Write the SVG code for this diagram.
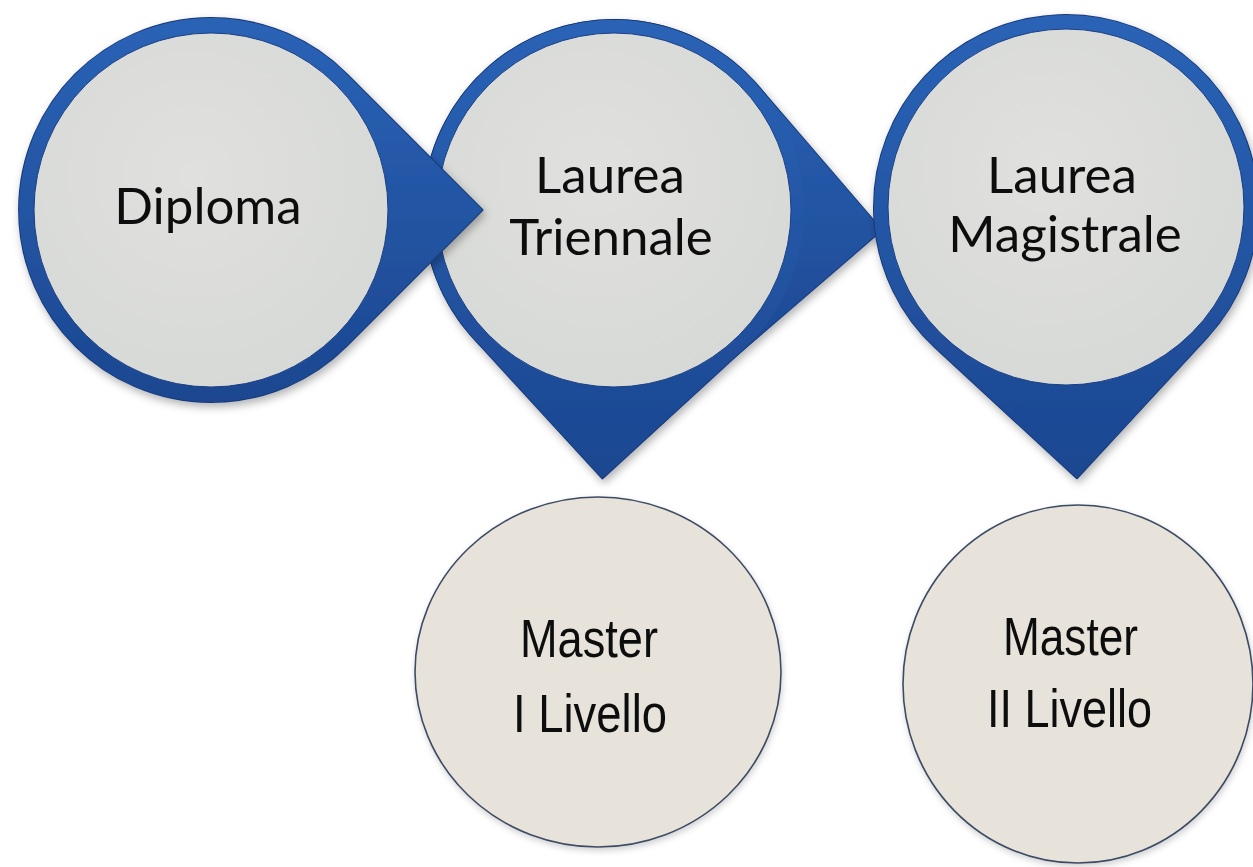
<svg xmlns="http://www.w3.org/2000/svg" width="1253" height="867" viewBox="0 0 1253 867">
  <defs>
    <linearGradient id="blue" x1="0" y1="0" x2="0" y2="1">
      <stop offset="0" stop-color="#2a63b6"/>
      <stop offset="1" stop-color="#1c4690"/>
    </linearGradient>
    <radialGradient id="inner" cx="0.45" cy="0.4" r="0.7">
      <stop offset="0" stop-color="#e0e1de"/>
      <stop offset="1" stop-color="#d6d8d5"/>
    </radialGradient>
    <filter id="shadow" x="-10%" y="-10%" width="125%" height="125%">
      <feDropShadow dx="2" dy="4" stdDeviation="4" flood-color="#000" flood-opacity="0.3"/>
    </filter>
    <filter id="soft" x="-10%" y="-10%" width="125%" height="125%">
      <feDropShadow dx="1" dy="3" stdDeviation="3" flood-color="#000" flood-opacity="0.18"/>
    </filter>
  </defs>
  <style>
    .edge { fill: none; stroke: #17397a; stroke-width: 2; stroke-linejoin: round; }
    .drop { fill: url(#blue); stroke: none; }
    .core { fill: url(#inner); stroke: #1a3f86; stroke-width: 1; }
    .sub { fill: #e7e3db; stroke: #3d4b64; stroke-width: 1.6; }
    .lbl { font-family: Lato, "Open Sans", "Liberation Sans", sans-serif; font-size: 51px; fill: #111; text-anchor: middle; }
    .lbl2 { font-family: "Liberation Sans", Arial, sans-serif; font-size: 54px; fill: #111; }
  </style>
  <rect width="1253" height="867" fill="#ffffff"/>
  <g id="connectors"/>

  <g id="laurea-triennale" filter="url(#shadow)">
    <path class="edge" d="M 758.0 86.1 L 881.9 230.1 L 737.9 354.0 A 190 190 0 1 1 758.0 86.1 Z"/>
    <path class="edge" d="M 742.4 350.1 L 602.3 478.4 L 473.9 338.4 A 190 190 0 1 1 742.4 350.1 Z"/>
    <path class="drop" d="M 758.0 86.1 L 881.9 230.1 L 737.9 354.0 A 190 190 0 1 1 758.0 86.1 Z"/>
    <path class="drop" d="M 742.4 350.1 L 602.3 478.4 L 473.9 338.4 A 190 190 0 1 1 742.4 350.1 Z"/>
    <circle class="core" cx="614" cy="210" r="177"/>
    <text class="lbl" x="610" y="193">Laurea</text>
    <text class="lbl" x="611" y="255">Triennale</text>
  </g>

  <g id="diploma" filter="url(#shadow)">
    <path class="edge" d="M 346.8 74.2 L 482.5 210 L 346.8 345.8 A 192 192 0 1 1 346.8 74.2 Z"/>
    <path class="drop" d="M 346.8 74.2 L 482.5 210 L 346.8 345.8 A 192 192 0 1 1 346.8 74.2 Z"/>
    <circle class="core" cx="211" cy="210" r="177"/>
    <text class="lbl" x="208" y="224">Diploma</text>
  </g>

  <g id="laurea-magistrale" filter="url(#shadow)">
    <path class="edge" d="M 1207.1 337.2 L 1076.9 478.3 L 935.8 348.1 A 192 192 0 1 1 1207.1 337.2 Z"/>
    <path class="drop" d="M 1207.1 337.2 L 1076.9 478.3 L 935.8 348.1 A 192 192 0 1 1 1207.1 337.2 Z"/>
    <circle class="core" cx="1066" cy="207" r="178"/>
    <text class="lbl" x="1062" y="193">Laurea</text>
    <text class="lbl" x="1065" y="252">Magistrale</text>
  </g>

  <g id="master-1" filter="url(#soft)">
    <ellipse class="sub" cx="598" cy="672" rx="183" ry="175"/>
    <text class="lbl2" x="520" y="657" textLength="138" lengthAdjust="spacingAndGlyphs">Master</text>
    <text class="lbl2" x="513" y="732" textLength="154" lengthAdjust="spacingAndGlyphs">I Livello</text>
  </g>

  <g id="master-2" filter="url(#soft)">
    <ellipse class="sub" cx="1078" cy="684" rx="175" ry="179"/>
    <text class="lbl2" x="1003" y="655" textLength="135" lengthAdjust="spacingAndGlyphs">Master</text>
    <text class="lbl2" x="987" y="727" textLength="165" lengthAdjust="spacingAndGlyphs">II Livello</text>
  </g>
</svg>
